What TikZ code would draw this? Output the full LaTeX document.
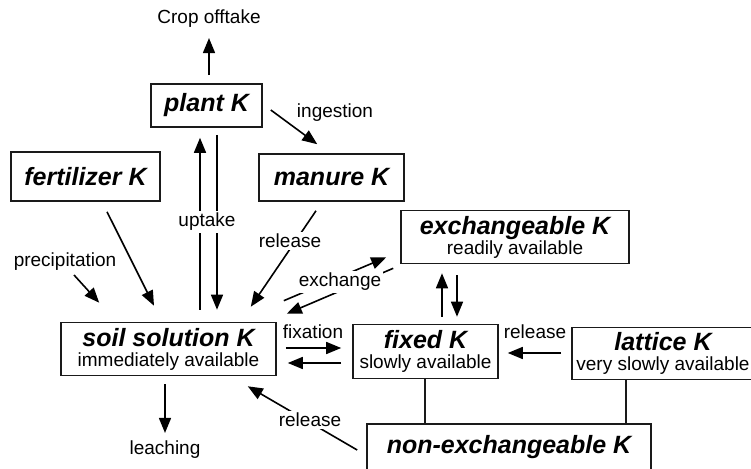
\documentclass[tikz,border=0pt]{standalone}
\usepackage{fontspec}
\setmainfont{Liberation Sans}
\usetikzlibrary{arrows.meta}
\definecolor{poolline}{HTML}{1A1A1A}

\newcommand{\pooltitle}{\fontsize{25}{20}\selectfont\bfseries\itshape}
\newcommand{\poolsub}{\fontsize{19}{20}\selectfont\mdseries\upshape}

\begin{document}
\begin{tikzpicture}[x=1pt, y=-1pt,
    pool/.style={draw=poolline, line width=1.6pt, inner sep=0pt,
                 align=center, font=\pooltitle},
    lbl/.style={font=\fontsize{19}{20}\selectfont, inner sep=1pt},
    gaplbl/.style={lbl, fill=white, inner sep=2pt},
    flow/.style={line width=1.6pt, -{Triangle[length=15pt, width=12pt]}},
    link/.style={draw=poolline, line width=2pt},
  ]
  \useasboundingbox (0,0) rectangle (751,468);

  % pools
  \node[pool, minimum width=111pt, minimum height=43pt] (plant)   at (206.5,105.5) {plant K};
  \node[pool, minimum width=149pt, minimum height=49pt] (fert)    at (85.5,176.5)  {fertilizer K};
  \node[pool, minimum width=145pt, minimum height=47pt] (manure)  at (331.5,177.5) {manure K};
  \node[pool, minimum width=228pt, minimum height=53pt] (exch)    at (515,237)
    {exchangeable K\\\poolsub readily available};
  \node[pool, minimum width=215pt, minimum height=53pt] (soil)    at (168.5,349)
    {soil solution K\\\poolsub immediately available};
  \node[pool, minimum width=145pt, minimum height=54pt] (fixed)   at (425.5,351.5)
    {fixed K\\\poolsub slowly available};
  \node[pool, minimum width=182pt, minimum height=52pt] (lattice) at (663,353.5)
    {lattice K\\\poolsub very slowly available};
  \node[pool, minimum width=284pt, minimum height=46pt] (nonex)   at (509,447)
    {non-exchangeable K};

  % free ends
  \node[lbl] (crop)   at (209,19)  {Crop offtake};
  \node[lbl] (precip) at (65,262)  {precipitation};
  \node[lbl] (leach)  at (165,450) {leaching};
  \node[lbl] (ingest) at (335,113) {ingestion};
  \node[lbl] (fixlbl) at (313,332) {fixation};
  \node[lbl] (rellat) at (535,332) {release};

  % flows
  \draw[flow] ([xshift=2.5pt,yshift=8pt]plant.north) -- ([yshift=-9pt]crop.south);
  \draw[flow] ([xshift=8pt,yshift=-4.5pt]plant.east) -- ([xshift=59pt,yshift=9pt]manure.north west);
  \draw[flow] ([xshift=31.5pt,yshift=12pt]soil.north) -- ([xshift=-6.5pt,yshift=-10pt]plant.south);
  \draw[flow] ([xshift=10.5pt,yshift=-7pt]plant.south) -- ([xshift=48.5pt,yshift=12pt]soil.north);
  \draw[flow] ([xshift=21.5pt,yshift=-10pt]fert.south) -- ([xshift=-14.5pt,yshift=16pt]soil.north);
  \draw[flow] ([xshift=9pt,yshift=-13pt]precip.center) -- ([xshift=39pt,yshift=19pt]soil.north west);
  \draw[flow] ([xshift=-15.5pt,yshift=-9pt]manure.south) -- ([xshift=-26pt,yshift=15pt]soil.north east);
  \draw[flow] ([xshift=7pt,yshift=21pt]soil.north east) -- ([xshift=-14pt,yshift=7pt]exch.south west);
  \draw[flow] ([xshift=-7pt,yshift=-4pt]exch.south west) -- ([xshift=10pt,yshift=8pt]soil.north east);
  \draw[flow] ([xshift=9pt,yshift=1pt]soil.east) -- ([xshift=-11pt,yshift=3.5pt]fixed.west);
  \draw[flow] ([xshift=-11pt,yshift=-11.5pt]fixed.west) -- ([xshift=11pt,yshift=-14pt]soil.east);
  \draw[flow] ([xshift=16.5pt,yshift=7pt]fixed.north) -- ([xshift=-73pt,yshift=-9pt]exch.south);
  \draw[flow] ([xshift=-58pt,yshift=-11pt]exch.south) -- ([xshift=31.5pt,yshift=7pt]fixed.north);
  \draw[flow] ([xshift=-10pt,yshift=0.5pt]lattice.west) -- ([xshift=9pt,yshift=-1.5pt]fixed.east);
  \draw[flow] ([xshift=-9pt,yshift=-3pt]nonex.west) -- ([xshift=-29pt,yshift=-10pt]soil.south east);
  \draw[flow] ([xshift=-3.5pt,yshift=-8pt]soil.south) -- ([yshift=7pt]leach.north);

  % links to non-exchangeable
  \coordinate (fixfoot) at ([xshift=-0.5pt]fixed.south);
  \coordinate (latfoot) at ([xshift=-37pt]lattice.south);
  \draw[link] (fixfoot) -- (fixfoot |- nonex.north);
  \draw[link] (latfoot) -- (latfoot |- nonex.north);

  % labels over the lines
  \node[gaplbl] (uptake) at (207,222) {uptake};
  \node[gaplbl] (relman) at (290,241) {release};
  \node[gaplbl] (exlbl)  at (340,282) {exchange};
  \node[gaplbl] (relnon) at (310,420) {release};
\end{tikzpicture}
\end{document}
